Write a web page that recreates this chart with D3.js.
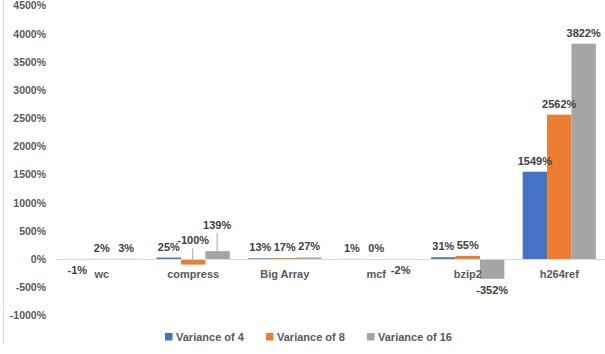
<!DOCTYPE html>
<html>
<head>
<meta charset="utf-8">
<script src="https://cdn.jsdelivr.net/npm/d3@7"></script>
<style>
  html, body { margin: 0; padding: 0; background: #fff; }
  svg { display: block; font-family: "Liberation Sans", Arial, sans-serif; }
</style>
</head>
<body>
<svg id="chart" width="605" height="354"></svg>
<script>
// Benchmarks and the three variance settings
const categories = ["wc", "compress", "Big Array", "mcf", "bzip2", "h264ref"];
const seriesNames = ["Variance of 4", "Variance of 8", "Variance of 16"];
const variance4 = [-1, 25, 13, 1, 31, 1549];
const variance8 = [2, -100, 17, 0, 55, 2562];
const variance16 = [3, 139, 27, -2, -352, 3822];
const tickValues = [-1000, -500, 0, 500, 1000, 1500, 2000, 2500, 3000, 3500, 4000, 4500];
const colors = ["#4472C4", "#ED7D31", "#A5A5A5"];

const seriesValues = [variance4, variance8, variance16];

// Labels that sit away from their bar, joined by a leader line
const displaced = {
  "compress|1": { dx: 0, dy: -14.5 },
  "compress|2": { dx: -0.5, dy: -22 }
};

const svg = d3.select("#chart");
const plot = { left: 56, right: 605, top: 5.5, bottom: 315.3 };

// chart area edge
svg.append("line")
  .attr("x1", 3.5).attr("x2", 3.5).attr("y1", 0).attr("y2", 343)
  .attr("stroke", "#d9d9d9").attr("stroke-width", 1);

const y = d3.scaleLinear().domain([-1000, 4500]).range([plot.bottom, plot.top]);
const x0 = d3.scaleBand().domain(categories).range([plot.left, plot.right])
  .paddingInner(0.2).paddingOuter(0.1);
const x1 = d3.scaleBand().domain(d3.range(seriesNames.length)).range([0, x0.bandwidth()]);

// value axis, labels only
const yAxis = d3.axisLeft(y).tickValues(tickValues).tickSize(0).tickPadding(0)
  .tickFormat(d => d + "%");
const gy = svg.append("g").attr("transform", "translate(46,0)").call(yAxis);
gy.select(".domain").remove();
gy.selectAll("text")
  .attr("fill", "#595959").attr("font-size", "10.5px").attr("font-weight", "bold")
  .attr("font-family", "Liberation Sans, Arial, sans-serif");

// bars
const data = [];
categories.forEach((c, i) => {
  seriesValues.forEach((vals, s) => data.push({ cat: c, s: s, v: vals[i] }));
});

const bars = svg.append("g");
bars.selectAll("rect").data(data).join("rect")
  .attr("x", d => x0(d.cat) + x1(d.s))
  .attr("width", x1.bandwidth())
  .attr("y", d => y(Math.max(0, d.v)))
  .attr("height", d => Math.abs(y(d.v) - y(0)))
  .attr("fill", d => colors[d.s]);

// zero line
svg.append("line")
  .attr("x1", plot.left).attr("x2", plot.right)
  .attr("y1", y(0) + 0.5).attr("y2", y(0) + 0.5)
  .attr("stroke", "#d9d9d9").attr("stroke-width", 1);

// category labels next to the zero line
svg.append("g").selectAll("text").data(categories).join("text")
  .attr("x", d => x0(d) + x0.bandwidth() / 2)
  .attr("y", y(0) + 19)
  .attr("text-anchor", "middle")
  .attr("fill", "#595959").attr("font-size", "11px").attr("font-weight", "bold")
  .text(d => d);

// data labels
const labels = svg.append("g");
data.forEach(d => {
  const cx = x0(d.cat) + x1(d.s) + x1.bandwidth() / 2;
  let ly = d.v >= 0 ? y(d.v) - 7 : y(d.v) + 15;
  let lx = cx;
  const off = displaced[d.cat + "|" + d.s];
  if (off) {
    const anchorY = d.v >= 0 ? y(d.v) : y(d.v) - 2;
    lx = cx + off.dx;
    ly = y(Math.max(0, d.v)) + off.dy;
    labels.append("line")
      .attr("x1", cx - 0.5).attr("x2", cx - 0.5)
      .attr("y1", ly + 4).attr("y2", anchorY)
      .attr("stroke", "#a6a6a6").attr("stroke-width", 1);
  }
  labels.append("text")
    .attr("x", lx).attr("y", ly)
    .attr("text-anchor", "middle")
    .attr("fill", "#404040").attr("font-size", "11px").attr("font-weight", "bold")
    .text(d.v + "%");
});

// legend
const legendX = [165, 266, 367];
const lg = svg.append("g");
seriesNames.forEach((n, i) => {
  lg.append("rect").attr("x", legendX[i]).attr("y", 333).attr("width", 7.5).attr("height", 7.5)
    .attr("fill", colors[i]);
  lg.append("text").attr("x", legendX[i] + 11).attr("y", 340.5)
    .attr("fill", "#595959").attr("font-size", "11px").attr("font-weight", "bold")
    .text(n);
});
</script>
</body>
</html>
